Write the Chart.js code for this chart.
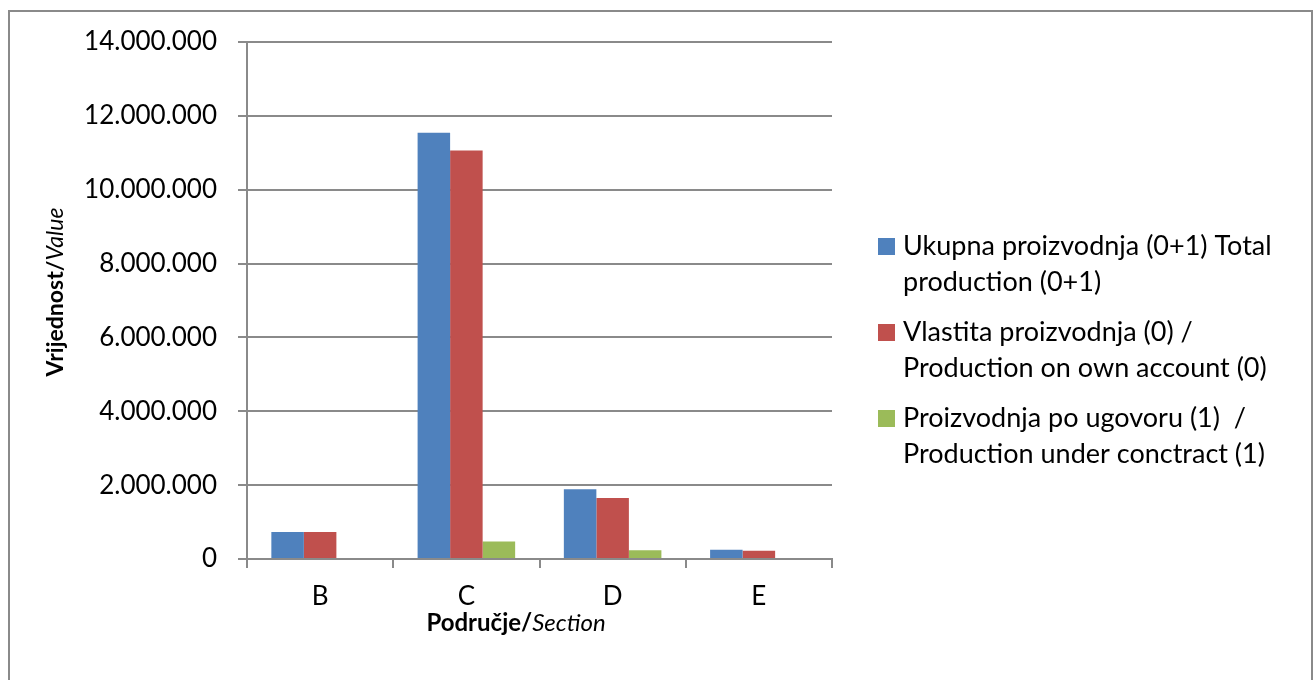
<!DOCTYPE html>
<html>
<head>
<meta charset="utf-8">
<script src="https://cdn.jsdelivr.net/npm/chart.js@4.4.1/dist/chart.umd.min.js"></script>
<style>
  html, body { margin: 0; padding: 0; background: #fff; }
  #wrap { position: relative; width: 1316px; height: 680px; }
</style>
</head>
<body>
<div id="wrap"><canvas id="chart" width="1316" height="680"></canvas></div>
<script>
'use strict';

// data

const sections = ['B', 'C', 'D', 'E']

const totalProduction = [731000, 11540000, 1890000, 250000]
const ownAccount = [731000, 11060000, 1655000, 222000]
const underContract = [0, 474000, 235000, 28000]

const seriesLines = [
    ['Ukupna proizvodnja (0+1) Total', 'production (0+1)'],
    ['Vlastita proizvodnja (0) /', 'Production on own account (0)'],
    ['Proizvodnja po ugovoru (1)  /', 'Production under conctract (1)']
]
const seriesColors = ['#4F81BD', '#C0504D', '#9BBB59']

const yTickValues = [0, 2000000, 4000000, 6000000, 8000000, 10000000, 12000000, 14000000]

const fontFamily = 'Lato, "Open Sans", sans-serif'
const gridGray = '#8a8a8a'

// format numbers with dots as thousand separators

function formatNumber(value) {
    return String(value).replace(/\B(?=(\d{3})+(?!\d))/g, '.')
}

// frame, axis titles and legend drawn on the canvas

const decorPlugin = {
    id: 'decor',
    beforeDraw(chart) {
        const ctx = chart.ctx
        ctx.save()
        ctx.fillStyle = '#fff'
        ctx.fillRect(0, 0, chart.width, chart.height)
        ctx.strokeStyle = gridGray
        ctx.lineWidth = 2
        ctx.strokeRect(9, 11, 1303, 680)
        ctx.restore()
    },
    afterDraw(chart) {
        const ctx = chart.ctx
        ctx.save()
        ctx.fillStyle = '#000'
        ctx.textBaseline = 'middle'

        // mixed bold / italic title helper
        const drawTitle = (x, y, angle, size, boldText, italicText) => {
            ctx.save()
            ctx.translate(x, y)
            ctx.rotate(angle)
            const boldFont = `bold ${size}px ${fontFamily}`
            const italicFont = `italic ${size}px ${fontFamily}`
            ctx.font = boldFont
            const w1 = ctx.measureText(boldText).width
            ctx.font = italicFont
            const w2 = ctx.measureText(italicText).width
            const start = -(w1 + w2) / 2
            ctx.textAlign = 'left'
            ctx.font = boldFont
            ctx.fillText(boldText, start, 0)
            ctx.font = italicFont
            ctx.fillText(italicText, start + w1, 0)
            ctx.restore()
        }

        drawTitle(56, 292, -Math.PI / 2, 23, 'Vrijednost/', 'Value')
        drawTitle(516, 623, 0, 24, 'Područje/', 'Section')

        // legend

        ctx.font = `27px ${fontFamily}`
        ctx.textAlign = 'left'
        let y = 246
        chart.data.datasets.forEach((ds, i) => {
            ctx.fillStyle = ds.backgroundColor
            ctx.fillRect(878, y - 8, 17, 17)
            ctx.fillStyle = '#000'
            seriesLines[i].forEach((line, j) => {
                ctx.fillText(line, 903, y + j * 36)
            })
            y += 86
        })
        ctx.restore()
    }
}

const chartCanvas = document.getElementById('chart')

new Chart(chartCanvas, {
    type: 'bar',
    data: {
        labels: sections,
        datasets: [
            { label: seriesLines[0].join(' '), data: totalProduction, backgroundColor: seriesColors[0] },
            { label: seriesLines[1].join(' '), data: ownAccount, backgroundColor: seriesColors[1] },
            { label: seriesLines[2].join(' '), data: underContract, backgroundColor: seriesColors[2] }
        ]
    },
    options: {
        responsive: false,
        animation: false,
        events: [],
        layout: {
            padding: { left: 0, right: 484, top: 42, bottom: 0 }
        },
        datasets: {
            bar: {
                categoryPercentage: 0.667,
                barPercentage: 1,
                borderWidth: 0
            }
        },
        plugins: {
            legend: { display: false },
            tooltip: { enabled: false }
        },
        scales: {
            x: {
                offset: true,
                grid: {
                    offset: true,
                    drawOnChartArea: false,
                    drawTicks: true,
                    tickLength: 9,
                    color: gridGray,
                    lineWidth: 2
                },
                border: { color: gridGray, width: 2 },
                ticks: {
                    color: '#000',
                    padding: 13,
                    font: { family: fontFamily, size: 26 }
                },
                afterFit(scale) {
                    scale.height = 121
                }
            },
            y: {
                min: 0,
                max: 14000000,
                afterBuildTicks(scale) {
                    scale.ticks = yTickValues.map(v => ({ value: v }))
                },
                grid: {
                    color: gridGray,
                    lineWidth: 2,
                    drawTicks: true,
                    tickLength: 9
                },
                border: { color: gridGray, width: 2 },
                ticks: {
                    color: '#000',
                    padding: 21,
                    font: { family: fontFamily, size: 26 },
                    callback: value => formatNumber(value)
                },
                afterFit(scale) {
                    scale.width = 247
                }
            }
        }
    },
    plugins: [decorPlugin]
});
</script>
</body>
</html>
